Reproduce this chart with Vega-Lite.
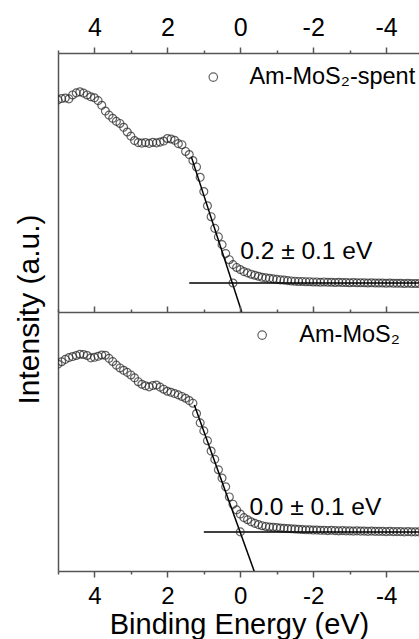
{
  "$schema": "https://vega.github.io/schema/vega-lite/v6.json",
  "padding": {"top": 15, "left": 13, "right": 0, "bottom": 0},
  "bounds": "flush",
  "spacing": 0,
  "config": {
    "view": {"stroke": null},
    "font": "Liberation Sans",
    "point": {"shape": "circle", "filled": false, "stroke": "#222", "strokeWidth": 1.2, "size": 62},
    "axis": {
      "domainColor": "#555",
      "domainWidth": 1.5,
      "tickColor": "#555",
      "tickWidth": 1.5,
      "labelFont": "Liberation Sans",
      "labelFontSize": 25,
      "labelColor": "#000",
      "titleFont": "Liberation Sans",
      "titleFontSize": 30,
      "titleFontWeight": "normal",
      "titleColor": "#000",
      "grid": false
    }
  },
  "datasets": {
    "spent": [
      {"be": 5.0, "intensity": 81.9}, {"be": 4.9, "intensity": 82.4}, {"be": 4.8, "intensity": 82.6}, {"be": 4.7, "intensity": 82.3},
      {"be": 4.6, "intensity": 83.8}, {"be": 4.5, "intensity": 84.6}, {"be": 4.4, "intensity": 85.0}, {"be": 4.3, "intensity": 84.5},
      {"be": 4.2, "intensity": 83.8}, {"be": 4.1, "intensity": 83.1}, {"be": 4.0, "intensity": 82.7}, {"be": 3.9, "intensity": 81.6},
      {"be": 3.8, "intensity": 79.8}, {"be": 3.7, "intensity": 77.6}, {"be": 3.6, "intensity": 76.0}, {"be": 3.5, "intensity": 74.8},
      {"be": 3.4, "intensity": 73.6}, {"be": 3.3, "intensity": 72.8}, {"be": 3.2, "intensity": 71.3}, {"be": 3.1, "intensity": 69.5},
      {"be": 3.0, "intensity": 67.9}, {"be": 2.9, "intensity": 66.2}, {"be": 2.8, "intensity": 65.4}, {"be": 2.7, "intensity": 65.2},
      {"be": 2.6, "intensity": 65.4}, {"be": 2.5, "intensity": 65.1}, {"be": 2.4, "intensity": 65.5}, {"be": 2.3, "intensity": 65.3},
      {"be": 2.2, "intensity": 65.6}, {"be": 2.1, "intensity": 66.0}, {"be": 2.0, "intensity": 67.0}, {"be": 1.9, "intensity": 66.8},
      {"be": 1.8, "intensity": 66.3}, {"be": 1.7, "intensity": 65.0}, {"be": 1.6, "intensity": 64.6}, {"be": 1.5, "intensity": 62.0},
      {"be": 1.4, "intensity": 60.8}, {"be": 1.3, "intensity": 58.5}, {"be": 1.2, "intensity": 56.0}, {"be": 1.1, "intensity": 52.0},
      {"be": 1.0, "intensity": 46.5}, {"be": 0.9, "intensity": 41.0}, {"be": 0.8, "intensity": 36.8}, {"be": 0.7, "intensity": 32.3},
      {"be": 0.6, "intensity": 29.0}, {"be": 0.5, "intensity": 26.0}, {"be": 0.4, "intensity": 22.6}, {"be": 0.3, "intensity": 20.2},
      {"be": 0.2, "intensity": 18.3}, {"be": 0.1, "intensity": 17.2}, {"be": 0.0, "intensity": 16.4}, {"be": -0.1, "intensity": 15.6},
      {"be": -0.2, "intensity": 15.1}, {"be": -0.3, "intensity": 14.6}, {"be": -0.4, "intensity": 14.2}, {"be": -0.5, "intensity": 13.8},
      {"be": -0.6, "intensity": 13.4}, {"be": -0.7, "intensity": 13.2}, {"be": -0.8, "intensity": 13.0}, {"be": -0.9, "intensity": 12.8},
      {"be": -1.0, "intensity": 12.6}, {"be": -1.1, "intensity": 12.4}, {"be": -1.2, "intensity": 12.3}, {"be": -1.3, "intensity": 12.1},
      {"be": -1.4, "intensity": 12.0}, {"be": -1.5, "intensity": 11.9}, {"be": -1.6, "intensity": 11.8}, {"be": -1.7, "intensity": 11.8},
      {"be": -1.8, "intensity": 11.7}, {"be": -1.9, "intensity": 11.7}, {"be": -2.0, "intensity": 11.6}, {"be": -2.1, "intensity": 11.6},
      {"be": -2.2, "intensity": 11.5}, {"be": -2.3, "intensity": 11.6}, {"be": -2.4, "intensity": 11.5}, {"be": -2.5, "intensity": 11.5},
      {"be": -2.6, "intensity": 11.4}, {"be": -2.7, "intensity": 11.5}, {"be": -2.8, "intensity": 11.4}, {"be": -2.9, "intensity": 11.4},
      {"be": -3.0, "intensity": 11.3}, {"be": -3.1, "intensity": 11.4}, {"be": -3.2, "intensity": 11.3}, {"be": -3.3, "intensity": 11.3},
      {"be": -3.4, "intensity": 11.3}, {"be": -3.5, "intensity": 11.2}, {"be": -3.6, "intensity": 11.3}, {"be": -3.7, "intensity": 11.2},
      {"be": -3.8, "intensity": 11.2}, {"be": -3.9, "intensity": 11.2}, {"be": -4.0, "intensity": 11.1}, {"be": -4.1, "intensity": 11.2},
      {"be": -4.2, "intensity": 11.1}, {"be": -4.3, "intensity": 11.1}, {"be": -4.4, "intensity": 11.1}, {"be": -4.5, "intensity": 11.0},
      {"be": -4.6, "intensity": 11.1}, {"be": -4.7, "intensity": 11.0}, {"be": -4.8, "intensity": 11.0}, {"be": -4.9, "intensity": 11.0}
    ],
    "fresh": [
      {"be": 5.0, "intensity": 79.9}, {"be": 4.9, "intensity": 80.8}, {"be": 4.8, "intensity": 81.7}, {"be": 4.7, "intensity": 82.4},
      {"be": 4.6, "intensity": 82.8}, {"be": 4.5, "intensity": 83.2}, {"be": 4.4, "intensity": 83.7}, {"be": 4.3, "intensity": 83.6},
      {"be": 4.2, "intensity": 83.2}, {"be": 4.1, "intensity": 82.3}, {"be": 4.0, "intensity": 82.5}, {"be": 3.9, "intensity": 82.9},
      {"be": 3.8, "intensity": 83.4}, {"be": 3.7, "intensity": 83.3}, {"be": 3.6, "intensity": 82.1}, {"be": 3.5, "intensity": 80.9},
      {"be": 3.4, "intensity": 79.5}, {"be": 3.3, "intensity": 78.4}, {"be": 3.2, "intensity": 77.5}, {"be": 3.1, "intensity": 76.7},
      {"be": 3.0, "intensity": 75.7}, {"be": 2.9, "intensity": 74.6}, {"be": 2.8, "intensity": 73.1}, {"be": 2.7, "intensity": 72.1},
      {"be": 2.6, "intensity": 71.5}, {"be": 2.5, "intensity": 71.1}, {"be": 2.4, "intensity": 71.6}, {"be": 2.3, "intensity": 71.8},
      {"be": 2.2, "intensity": 71.0}, {"be": 2.1, "intensity": 70.2}, {"be": 2.0, "intensity": 69.4}, {"be": 1.9, "intensity": 69.0},
      {"be": 1.8, "intensity": 68.5}, {"be": 1.7, "intensity": 68.0}, {"be": 1.6, "intensity": 67.4}, {"be": 1.5, "intensity": 66.7},
      {"be": 1.4, "intensity": 65.8}, {"be": 1.3, "intensity": 64.8}, {"be": 1.2, "intensity": 60.8}, {"be": 1.1, "intensity": 57.2},
      {"be": 1.0, "intensity": 54.1}, {"be": 0.9, "intensity": 50.3}, {"be": 0.8, "intensity": 46.3}, {"be": 0.7, "intensity": 43.1},
      {"be": 0.6, "intensity": 39.1}, {"be": 0.5, "intensity": 35.9}, {"be": 0.4, "intensity": 32.5}, {"be": 0.3, "intensity": 28.6},
      {"be": 0.2, "intensity": 25.8}, {"be": 0.1, "intensity": 23.6}, {"be": 0.0, "intensity": 22.0}, {"be": -0.1, "intensity": 20.6},
      {"be": -0.2, "intensity": 19.8}, {"be": -0.3, "intensity": 19.0}, {"be": -0.4, "intensity": 18.4}, {"be": -0.5, "intensity": 17.9},
      {"be": -0.6, "intensity": 17.5}, {"be": -0.7, "intensity": 17.2}, {"be": -0.8, "intensity": 17.0}, {"be": -0.9, "intensity": 16.9},
      {"be": -1.0, "intensity": 16.8}, {"be": -1.1, "intensity": 16.6}, {"be": -1.2, "intensity": 16.5}, {"be": -1.3, "intensity": 16.4},
      {"be": -1.4, "intensity": 16.3}, {"be": -1.5, "intensity": 16.2}, {"be": -1.6, "intensity": 16.1}, {"be": -1.7, "intensity": 16.0},
      {"be": -1.8, "intensity": 15.9}, {"be": -1.9, "intensity": 15.9}, {"be": -2.0, "intensity": 15.8}, {"be": -2.1, "intensity": 15.8},
      {"be": -2.2, "intensity": 15.7}, {"be": -2.3, "intensity": 15.7}, {"be": -2.4, "intensity": 15.6}, {"be": -2.5, "intensity": 15.7},
      {"be": -2.6, "intensity": 15.6}, {"be": -2.7, "intensity": 15.5}, {"be": -2.8, "intensity": 15.6}, {"be": -2.9, "intensity": 15.5},
      {"be": -3.0, "intensity": 15.5}, {"be": -3.1, "intensity": 15.4}, {"be": -3.2, "intensity": 15.5}, {"be": -3.3, "intensity": 15.4},
      {"be": -3.4, "intensity": 15.4}, {"be": -3.5, "intensity": 15.3}, {"be": -3.6, "intensity": 15.4}, {"be": -3.7, "intensity": 15.3},
      {"be": -3.8, "intensity": 15.3}, {"be": -3.9, "intensity": 15.3}, {"be": -4.0, "intensity": 15.2}, {"be": -4.1, "intensity": 15.3},
      {"be": -4.2, "intensity": 15.2}, {"be": -4.3, "intensity": 15.2}, {"be": -4.4, "intensity": 15.2}, {"be": -4.5, "intensity": 15.1},
      {"be": -4.6, "intensity": 15.2}, {"be": -4.7, "intensity": 15.1}, {"be": -4.8, "intensity": 15.1}, {"be": -4.9, "intensity": 15.1}
    ],
    "fits": [
      {"panel": "spent", "seg": "edge", "be": 1.34, "intensity": 59.8},
      {"panel": "spent", "seg": "edge", "be": -0.04, "intensity": 0},
      {"panel": "spent", "seg": "base", "be": 1.4, "intensity": 11.2},
      {"panel": "spent", "seg": "base", "be": -5.0, "intensity": 11.2},
      {"panel": "fresh", "seg": "edge", "be": 1.26, "intensity": 64.1},
      {"panel": "fresh", "seg": "edge", "be": -0.38, "intensity": 0},
      {"panel": "fresh", "seg": "base", "be": 1.0, "intensity": 15.1},
      {"panel": "fresh", "seg": "base", "be": -5.0, "intensity": 15.1}
    ],
    "edges": [
      {"panel": "spent", "be": 0.2, "intensity": 11.2},
      {"panel": "fresh", "be": 0.0, "intensity": 15.1}
    ],
    "notes": [
      {"panel": "spent", "be": 0.0, "intensity": 23.2, "text": "0.2 ± 0.1 eV"},
      {"panel": "fresh", "be": -0.25, "intensity": 24.3, "text": "0.0 ± 0.1 eV"}
    ],
    "keys": [
      {"panel": "spent", "mbe": 0.74, "tbe": -0.25, "intensity": 90.7, "text": "Am-MoS₂-spent"},
      {"panel": "fresh", "mbe": -0.6, "tbe": -1.62, "intensity": 91.1, "text": "Am-MoS₂"}
    ]
  },
  "vconcat": [
    {
      "width": 362,
      "height": 259,
      "resolve": {"axis": {"x": "independent", "y": "independent"}},
      "layer": [
        {
          "data": {"name": "spent"},
          "mark": {"type": "point", "clip": true},
          "encoding": {
            "x": {
              "field": "be", "type": "quantitative",
              "scale": {"domain": [-4.93, 5], "reverse": true, "nice": false, "zero": false},
              "axis": {
                "orient": "top", "title": null,
                "values": [5, 4, 3, 2, 1, 0, -1, -2, -3, -4],
                "labelExpr": "datum.value % 2 === 0 ? toString(datum.value) : ''",
                "tickSize": {"condition": {"test": "datum.value % 2 === 0", "value": 6}, "value": 3},
                "labelPadding": 7, "labelFlush": false, "labelOverlap": false
              }
            },
            "y": {
              "field": "intensity", "type": "quantitative",
              "scale": {"domain": [0, 100], "nice": false},
              "axis": {"orient": "left", "ticks": false, "labels": false, "title": null}
            }
          }
        },
        {
          "data": {"name": "fits"},
          "transform": [{"filter": "datum.panel === 'spent'"}],
          "mark": {"type": "line", "color": "#000", "strokeWidth": 1.5, "clip": true},
          "encoding": {
            "x": {"field": "be", "type": "quantitative", "axis": null},
            "y": {"field": "intensity", "type": "quantitative", "axis": null},
            "detail": {"field": "seg"}
          }
        },
        {
          "data": {"name": "edges"},
          "transform": [{"filter": "datum.panel === 'spent'"}],
          "mark": {"type": "point"},
          "encoding": {
            "x": {"field": "be", "type": "quantitative", "axis": null},
            "y": {"field": "intensity", "type": "quantitative", "axis": null}
          }
        },
        {
          "data": {"name": "notes"},
          "transform": [{"filter": "datum.panel === 'spent'"}],
          "mark": {"type": "text", "align": "left", "baseline": "middle", "fontSize": 24.5, "color": "#000"},
          "encoding": {
            "x": {"field": "be", "type": "quantitative", "axis": null},
            "y": {"field": "intensity", "type": "quantitative", "axis": null},
            "text": {"field": "text"}
          }
        },
        {
          "data": {"name": "keys"},
          "transform": [{"filter": "datum.panel === 'spent'"}],
          "mark": {"type": "point", "size": 72},
          "encoding": {
            "x": {"field": "mbe", "type": "quantitative", "axis": null},
            "y": {"field": "intensity", "type": "quantitative", "axis": null}
          }
        },
        {
          "data": {"name": "keys"},
          "transform": [{"filter": "datum.panel === 'spent'"}],
          "mark": {"type": "text", "align": "left", "baseline": "middle", "fontSize": 23.5, "color": "#000"},
          "encoding": {
            "x": {"field": "tbe", "type": "quantitative", "axis": null},
            "y": {"field": "intensity", "type": "quantitative", "axis": null},
            "text": {"field": "text"}
          }
        }
      ]
    },
    {
      "width": 362,
      "height": 259,
      "resolve": {"axis": {"x": "independent", "y": "independent"}},
      "layer": [
        {
          "data": {"name": "fresh"},
          "mark": {"type": "point", "clip": true},
          "encoding": {
            "x": {
              "field": "be", "type": "quantitative",
              "scale": {"domain": [-4.93, 5], "reverse": true, "nice": false, "zero": false},
              "axis": {
                "orient": "bottom", "title": "Binding Energy (eV)",
                "values": [5, 4, 3, 2, 1, 0, -1, -2, -3, -4],
                "labelExpr": "datum.value % 2 === 0 ? toString(datum.value) : ''",
                "tickSize": {"condition": {"test": "datum.value % 2 === 0", "value": 6}, "value": 3},
                "labelFontSize": 24, "labelPadding": 7, "labelFlush": false, "labelOverlap": false,
                "titleFontSize": 29, "titlePadding": 2
              }
            },
            "y": {
              "field": "intensity", "type": "quantitative",
              "scale": {"domain": [0, 100], "nice": false},
              "axis": {
                "orient": "left", "ticks": false, "labels": false,
                "title": "Intensity (a.u.)", "titleX": -14, "titleY": -3
              }
            }
          }
        },
        {
          "data": {"name": "fits"},
          "transform": [{"filter": "datum.panel === 'fresh'"}],
          "mark": {"type": "line", "color": "#000", "strokeWidth": 1.5, "clip": true},
          "encoding": {
            "x": {
              "field": "be", "type": "quantitative",
              "axis": {
                "orient": "top", "title": null, "labels": false,
                "values": [5, 4, 3, 2, 1, 0, -1, -2, -3, -4],
                "tickSize": {"condition": {"test": "datum.value % 2 === 0", "value": 6}, "value": 3}
              }
            },
            "y": {"field": "intensity", "type": "quantitative", "axis": null},
            "detail": {"field": "seg"}
          }
        },
        {
          "data": {"name": "edges"},
          "transform": [{"filter": "datum.panel === 'fresh'"}],
          "mark": {"type": "point"},
          "encoding": {
            "x": {"field": "be", "type": "quantitative", "axis": null},
            "y": {"field": "intensity", "type": "quantitative", "axis": null}
          }
        },
        {
          "data": {"name": "notes"},
          "transform": [{"filter": "datum.panel === 'fresh'"}],
          "mark": {"type": "text", "align": "left", "baseline": "middle", "fontSize": 24.5, "color": "#000"},
          "encoding": {
            "x": {"field": "be", "type": "quantitative", "axis": null},
            "y": {"field": "intensity", "type": "quantitative", "axis": null},
            "text": {"field": "text"}
          }
        },
        {
          "data": {"name": "keys"},
          "transform": [{"filter": "datum.panel === 'fresh'"}],
          "mark": {"type": "point", "size": 72},
          "encoding": {
            "x": {"field": "mbe", "type": "quantitative", "axis": null},
            "y": {"field": "intensity", "type": "quantitative", "axis": null}
          }
        },
        {
          "data": {"name": "keys"},
          "transform": [{"filter": "datum.panel === 'fresh'"}],
          "mark": {"type": "text", "align": "left", "baseline": "middle", "fontSize": 23.5, "color": "#000"},
          "encoding": {
            "x": {"field": "tbe", "type": "quantitative", "axis": null},
            "y": {"field": "intensity", "type": "quantitative", "axis": null},
            "text": {"field": "text"}
          }
        }
      ]
    }
  ]
}
